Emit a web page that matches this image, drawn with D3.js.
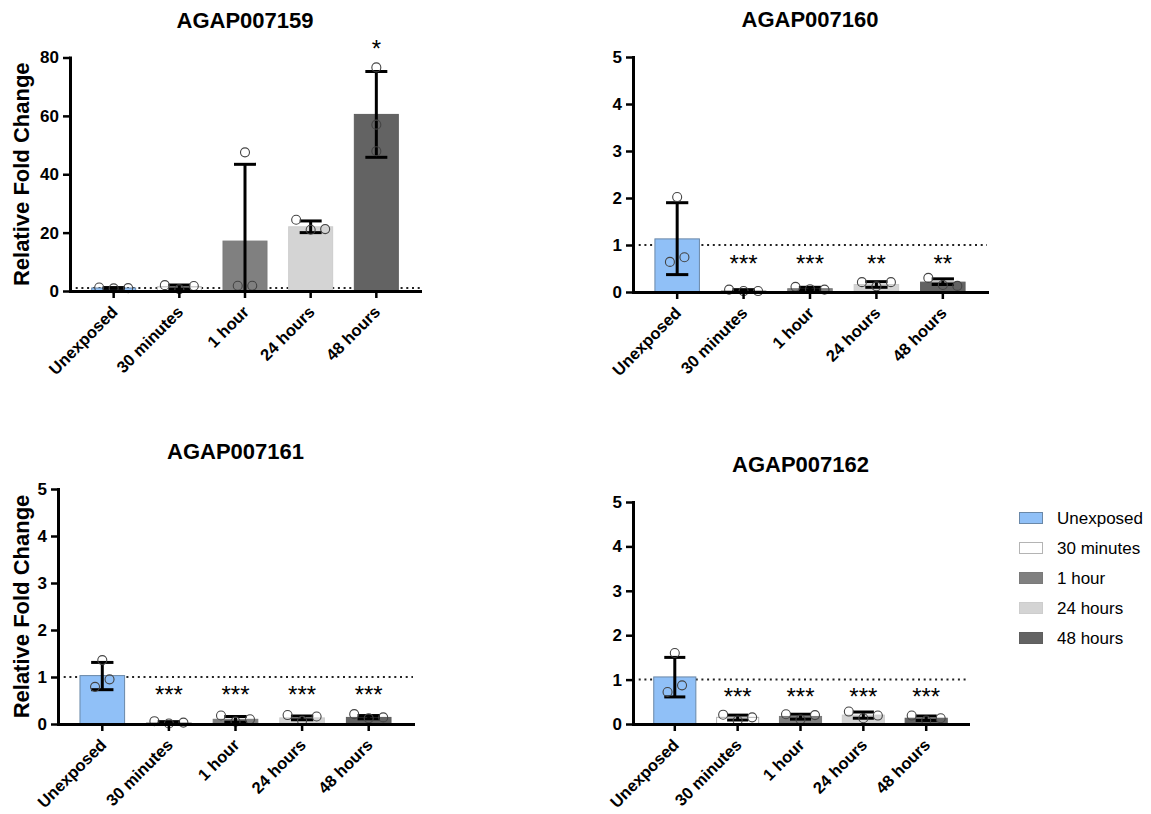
<!DOCTYPE html>
<html>
<head>
<meta charset="utf-8">
<script src="https://cdn.jsdelivr.net/npm/d3@7"></script>
<style>
  html, body { margin: 0; padding: 0; background: #fff; }
  svg { display: block; }
</style>
</head>
<body>
<svg id="chart" width="1151" height="814"></svg>
<script>
// ---------------- DATA ----------------
const categories = ["Unexposed", "30 minutes", "1 hour", "24 hours", "48 hours"];
const genes = ["AGAP007159", "AGAP007160", "AGAP007161", "AGAP007162"];
const yLabel = "Relative Fold Change";
const yTicks159 = [0, 20, 40, 60, 80];
const yTicksSmall = [0, 1, 2, 3, 4, 5];
const referenceLine = 1;

// AGAP007159
const mean159 = [1.03, 1.43, 17.1, 22.0, 60.5];
const errLow159 = [0.88, 0.75, -9.3, 20.0, 45.8];
const errHigh159 = [1.18, 2.05, 43.4, 24.0, 75.2];
const points159 = [[1.2, 0.9, 1.0], [2.0, 0.6, 1.7], [47.5, 1.8, 1.8], [24.4, 21.0, 21.2], [76.6, 57.0, 47.9]];
const stars159 = ["", "", "", "", "*"];

// AGAP007160
const mean160 = [1.13, 0.03, 0.07, 0.16, 0.21];
const errLow160 = [0.37, 0.01, 0.04, 0.10, 0.16];
const errHigh160 = [1.90, 0.05, 0.10, 0.22, 0.28];
const points160 = [[2.02, 0.64, 0.74], [0.05, 0.02, 0.02], [0.11, 0.06, 0.05], [0.21, 0.12, 0.21], [0.30, 0.15, 0.13]];
const stars160 = ["", "***", "***", "**", "**"];

// AGAP007161
const mean161 = [1.03, 0.03, 0.10, 0.13, 0.14];
const errLow161 = [0.73, 0.01, 0.04, 0.09, 0.11];
const errHigh161 = [1.31, 0.05, 0.16, 0.17, 0.18];
const points161 = [[1.36, 0.79, 0.95], [0.06, 0.01, 0.03], [0.18, 0.05, 0.10], [0.19, 0.07, 0.16], [0.21, 0.12, 0.14]];
const stars161 = ["", "***", "***", "***", "***"];

// AGAP007162
const mean162 = [1.06, 0.15, 0.17, 0.20, 0.13];
const errLow162 = [0.61, 0.09, 0.11, 0.13, 0.08];
const errHigh162 = [1.50, 0.20, 0.22, 0.27, 0.18];
const points162 = [[1.60, 0.72, 0.87], [0.21, 0.08, 0.15], [0.22, 0.10, 0.20], [0.28, 0.13, 0.19], [0.19, 0.08, 0.13]];
const stars162 = ["", "***", "***", "***", "***"];

// ---------------- STYLE / LAYOUT ----------------
const fills = ["#90C0F7", "#FFFFFF", "#808080", "#D4D4D4", "#636363"];
const strokes = ["#6A88A8", "#B4B4B4", "#7A7A7A", "#CDCDCD", "#5E5E5E"];
const FONT = "'Liberation Sans', Arial, Helvetica, sans-serif";

const panels = [
  { gene: genes[0], mean: mean159, lo: errLow159, hi: errHigh159, pts: points159, stars: stars159, ticks: yTicks159,
    box: { x0: 70, x1: 420, yTop: 57.5, y0: 291 }, showY: true, starDy: 248 },
  { gene: genes[1], mean: mean160, lo: errLow160, hi: errHigh160, pts: points160, stars: stars160, ticks: yTicksSmall,
    box: { x0: 633, x1: 987, yTop: 57, y0: 292 }, showY: false, starDy: 34 },
  { gene: genes[2], mean: mean161, lo: errLow161, hi: errHigh161, pts: points161, stars: stars161, ticks: yTicksSmall,
    box: { x0: 58, x1: 413, yTop: 489, y0: 724 }, showY: true, starDy: 35 },
  { gene: genes[3], mean: mean162, lo: errLow162, hi: errHigh162, pts: points162, stars: stars162, ticks: yTicksSmall,
    box: { x0: 633, x1: 968, yTop: 502, y0: 724 }, showY: false, starDy: 32.5 }
];

const svg = d3.select("#chart");

function jitter(vals, y) {
  // cluster points that overlap in pixel space, spread each cluster symmetrically
  const n = vals.length;
  const py = vals.map(v => y(v));
  const parent = d3.range(n);
  const find = i => parent[i] === i ? i : (parent[i] = find(parent[i]));
  for (let i = 0; i < n; i++)
    for (let j = i + 1; j < n; j++)
      if (Math.abs(py[i] - py[j]) < 11) parent[find(i)] = find(j);
  const groups = d3.group(d3.range(n), i => find(i));
  const off = new Array(n).fill(0);
  for (const members of groups.values()) {
    const k = members.length;
    members.forEach((m, idx) => { off[m] = (idx - (k - 1) / 2) * 14.5; });
  }
  return off;
}

panels.forEach(p => {
  const b = p.box;
  const g = svg.append("g");
  const x = d3.scaleBand().domain(categories).range([b.x0, b.x1]).paddingInner(0.33).paddingOuter(0.33);
  const y = d3.scaleLinear().domain([0, d3.max(p.ticks)]).range([b.y0, b.yTop]);
  const bw = x.bandwidth();
  const cx = c => x(c) + bw / 2;

  // title
  g.append("text")
    .attr("x", (b.x0 + b.x1) / 2).attr("y", b.yTop - 30)
    .attr("text-anchor", "middle")
    .style("font-family", FONT).style("font-weight", "bold").style("font-size", "22px")
    .text(p.gene);

  // y label
  if (p.showY) {
    g.append("text")
      .attr("transform", `translate(29,${(b.yTop + b.y0) / 2}) rotate(-90)`)
      .attr("text-anchor", "middle")
      .style("font-family", FONT).style("font-weight", "bold").style("font-size", "22px")
      .text(yLabel);
  }

  // dotted reference line
  g.append("line")
    .attr("x1", b.x0).attr("x2", b.x1)
    .attr("y1", y(referenceLine)).attr("y2", y(referenceLine))
    .attr("stroke", "#222").attr("stroke-width", 2)
    .attr("stroke-dasharray", "2 3.7");

  // bars
  g.selectAll("rect.bar").data(categories).enter().append("rect")
    .attr("class", "bar")
    .attr("x", c => x(c)).attr("width", bw)
    .attr("y", (c, i) => y(p.mean[i]))
    .attr("height", (c, i) => b.y0 - y(p.mean[i]))
    .attr("fill", (c, i) => fills[i])
    .attr("stroke", (c, i) => strokes[i]).attr("stroke-width", 1);

  // error bars
  const capW = bw * 0.25;
  categories.forEach((c, i) => {
    const yHi = y(p.hi[i]);
    const loClipped = p.lo[i] < 0;
    const yLo = loClipped ? b.y0 : y(p.lo[i]);
    const eg = g.append("g").attr("stroke", "#000").attr("stroke-width", 3);
    eg.append("line").attr("x1", cx(c)).attr("x2", cx(c)).attr("y1", yHi).attr("y2", yLo);
    eg.append("line").attr("x1", cx(c) - capW).attr("x2", cx(c) + capW).attr("y1", yHi).attr("y2", yHi);
    if (!loClipped)
      eg.append("line").attr("x1", cx(c) - capW).attr("x2", cx(c) + capW).attr("y1", yLo).attr("y2", yLo);
  });

  // points
  categories.forEach((c, i) => {
    const off = jitter(p.pts[i], y);
    g.selectAll(null).data(p.pts[i]).enter().append("circle")
      .attr("cx", (v, j) => cx(c) + off[j])
      .attr("cy", v => y(v))
      .attr("r", 4.5)
      .attr("fill", "none")
      .attr("stroke", "#444").attr("stroke-width", 1.1);
  });

  // stars
  g.selectAll("text.star").data(categories).enter().append("text")
    .attr("class", "star")
    .attr("x", c => cx(c)).attr("y", b.y0 - p.starDy + 13.7)
    .attr("text-anchor", "middle")
    .style("font-family", FONT).style("font-size", "24px")
    .text((c, i) => p.stars[i]);

  // axes
  const yAxis = d3.axisLeft(y).tickValues(p.ticks).tickSize(7).tickSizeOuter(0).tickPadding(4).tickFormat(d3.format("d"));
  const ya = g.append("g").attr("transform", `translate(${b.x0},0)`).call(yAxis);
  const xAxis = d3.axisBottom(x).tickSize(7).tickSizeOuter(0);
  const xa = g.append("g").attr("transform", `translate(0,${b.y0})`).call(xAxis);
  [ya, xa].forEach(a => {
    a.select(".domain").attr("stroke", "#000").attr("stroke-width", 3).attr("stroke-linecap", "square");
    a.selectAll(".tick line").attr("stroke", "#000").attr("stroke-width", 2.5);
    a.selectAll("text").style("font-family", FONT).style("font-weight", "bold").style("font-size", "17px").attr("fill", "#000");
  });
  xa.selectAll(".tick text")
    .style("font-size", "16.5px")
    .attr("x", 0).attr("y", 0).attr("dy", 0)
    .attr("text-anchor", "end")
    .attr("transform", "translate(5,22) rotate(-45)");
});

// legend
const legend = svg.append("g");
const legY = d3.scalePoint().domain(categories).range([518, 638]);
categories.forEach((c, i) => {
  legend.append("rect")
    .attr("x", 1019.5).attr("y", legY(c) - 5.5).attr("width", 23).attr("height", 11)
    .attr("fill", fills[i]).attr("stroke", strokes[i]).attr("stroke-width", 1);
  legend.append("text")
    .attr("x", 1057).attr("y", legY(c) + 6)
    .style("font-family", FONT).style("font-size", "17px")
    .text(c);
});
</script>
</body>
</html>
